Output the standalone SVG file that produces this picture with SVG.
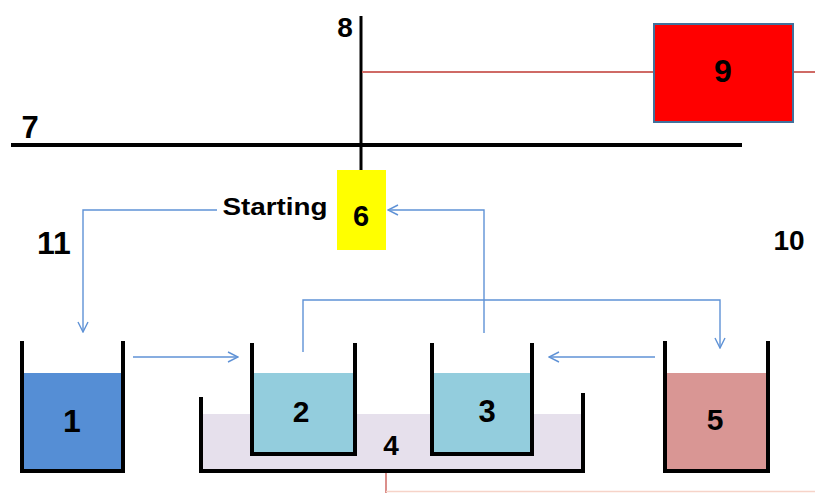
<svg xmlns="http://www.w3.org/2000/svg" width="815" height="493" viewBox="0 0 815 493">
  <defs>
    <marker id="arrow" viewBox="0 0 12 12" refX="11" refY="6" markerWidth="12" markerHeight="12" markerUnits="userSpaceOnUse" orient="auto">
      <path d="M1,1 L11,6 L1,11" fill="none" stroke="#5F92D6" stroke-width="1.4"/>
    </marker>
  </defs>
  <style>
    .lbl { font-family: "Liberation Sans", Arial, sans-serif; font-weight: bold; fill: #000; text-anchor: middle; }
    .wall { fill: none; stroke: #000; stroke-width: 4; stroke-linejoin: miter; }
    .flow { fill: none; stroke: #5F92D6; stroke-width: 1.4; }
    .heat { fill: none; stroke: #CF6A65; stroke-width: 2; }
    .rail { stroke: #000; fill: none; }
  </style>

  <rect width="815" height="493" fill="#FFFFFF"/>

  <!-- frame: horizontal bar 7 and vertical rod 8 -->
  <g id="bar7">
    <line class="rail" x1="11" y1="145" x2="742" y2="145" stroke-width="4"/>
    <text class="lbl" x="30" y="138" font-size="31">7</text>
  </g>
  <g id="rod8">
    <line class="rail" x1="361" y1="16" x2="361" y2="171" stroke-width="3"/>
    <text class="lbl" x="345" y="37" font-size="28">8</text>
  </g>

  <!-- heater cable -->
  <g id="cable">
    <line class="heat" x1="362" y1="72" x2="654" y2="72"/>
    <line class="heat" x1="794" y1="72" x2="815" y2="72"/>
    <line x1="386" y1="473" x2="386" y2="493" stroke="#CF6A65" stroke-width="1.5"/>
    <line x1="386" y1="491.5" x2="815" y2="491.5" stroke="#F6D3C8" stroke-width="1.5"/>
  </g>

  <!-- unit 9 -->
  <g id="unit9">
    <rect x="654" y="24" width="139" height="98" fill="#FF0000" stroke="#41719C" stroke-width="2"/>
    <text class="lbl" x="723" y="82" font-size="32">9</text>
  </g>

  <!-- holder 6 -->
  <g id="holder6">
    <rect x="337" y="170" width="49" height="80" fill="#FFFF00"/>
    <text class="lbl" x="361" y="226" font-size="29">6</text>
  </g>

  <text class="lbl" x="275" y="215" font-size="24" textLength="105" lengthAdjust="spacingAndGlyphs">Starting</text>
  <text class="lbl" x="54" y="254" font-size="32">11</text>
  <text class="lbl" x="789" y="250" font-size="28">10</text>

  <!-- connectors -->
  <g id="connectors">
    <polyline class="flow" points="217,210 83,210 83,332" marker-end="url(#arrow)"/>
    <polyline class="flow" points="484,333 484,210 388,210" marker-end="url(#arrow)"/>
    <polyline class="flow" points="303,352 303,300 720,300 720,348" marker-end="url(#arrow)"/>
    <line class="flow" x1="133" y1="357" x2="238" y2="357" marker-end="url(#arrow)"/>
    <line class="flow" x1="655" y1="357" x2="549" y2="357" marker-end="url(#arrow)"/>
  </g>

  <!-- tank 1 -->
  <g id="tank1">
    <rect x="24" y="373" width="97" height="96" fill="#558ED5"/>
    <polyline class="wall" points="22,341 22,471 123,471 123,341"/>
    <text class="lbl" x="72" y="432" font-size="32">1</text>
  </g>

  <!-- bath 4 -->
  <g id="bath4">
    <rect x="203" y="414" width="378" height="55" fill="#E6E0EC"/>
    <polyline class="wall" points="201,397 201,471 583,471 583,393"/>
    <text class="lbl" x="391" y="455" font-size="28">4</text>
  </g>

  <!-- tank 2 -->
  <g id="tank2">
    <rect x="254" y="373" width="99" height="79" fill="#93CDDD"/>
    <polyline class="wall" points="252,343 252,454 355,454 355,343"/>
    <text class="lbl" x="301" y="422" font-size="30">2</text>
  </g>

  <!-- tank 3 -->
  <g id="tank3">
    <rect x="434" y="373" width="96" height="79" fill="#93CDDD"/>
    <polyline class="wall" points="432,343 432,454 532,454 532,343"/>
    <text class="lbl" x="487" y="422" font-size="31">3</text>
  </g>

  <!-- tank 5 -->
  <g id="tank5">
    <rect x="667" y="373" width="99" height="96" fill="#D99694"/>
    <polyline class="wall" points="665,341 665,471 768,471 768,341"/>
    <text class="lbl" x="715" y="430" font-size="30">5</text>
  </g>
</svg>
